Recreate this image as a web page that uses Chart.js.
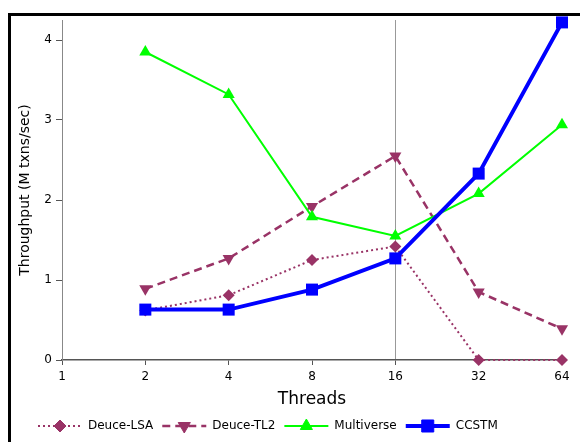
<!DOCTYPE html>
<html>
<head>
<meta charset="utf-8">
<script src="https://cdn.jsdelivr.net/npm/chart.js@4"></script>
<style>
  html, body { margin: 0; padding: 0; background: #fff; }
  #frame { position: absolute; left: 8px; top: 13px; width: 700px; height: 600px;
           border-top: 3px solid #000; border-left: 3px solid #000; }
  #wrap { position: absolute; left: 0; top: 0; width: 580px; height: 442px; }
</style>
</head>
<body>
<div id="frame"></div>
<div id="wrap"><canvas id="chart" width="580" height="442"></canvas></div>
<script>
// --- DATA ---
const threads = [2, 4, 8, 16, 32, 64];
const xTicks = [1, 2, 4, 8, 16, 32, 64];
const yTicks = [0, 1, 2, 3, 4];

const deuceLsa = [0.62, 0.81, 1.25, 1.42, 0.0, 0.0];
const deuceTl2 = [0.89, 1.27, 1.92, 2.55, 0.85, 0.39];
const multiverse = [3.85, 3.32, 1.79, 1.55, 2.08, 2.94];
const ccstm = [0.63, 0.63, 0.88, 1.27, 2.33, 4.22];

const FONT = "'DejaVu Sans', sans-serif";
const PURPLE = '#993366';

function pts(values) {
    return values.map((v, i) => ({ x: threads[i], y: v }));
}

// --- LEGEND (line sample + marker, like the original plot) ---
const lineLegend = {
    id: 'lineLegend',
    afterDraw(chart) {
        const ctx = chart.ctx;
        const y = 426;
        let x = 38;
        ctx.save();
        ctx.font = '12px ' + FONT;
        ctx.textBaseline = 'middle';
        chart.data.datasets.forEach(ds => {
            // line sample
            ctx.beginPath();
            ctx.setLineDash(ds.borderDash || []);
            ctx.strokeStyle = ds.borderColor;
            ctx.lineWidth = ds.borderWidth;
            ctx.moveTo(x, y);
            ctx.lineTo(x + 44, y);
            ctx.stroke();
            ctx.setLineDash([]);
            // marker
            ctx.fillStyle = ds.pointBackgroundColor;
            ctx.strokeStyle = ds.pointBackgroundColor;
            ctx.lineWidth = 1;
            Chart.helpers.drawPoint(ctx, {
                pointStyle: ds.pointStyle,
                rotation: ds.pointRotation || 0,
                radius: ds.pointRadius,
                borderWidth: 1
            }, x + 22, y);
            ctx.fillStyle = '#000';
            ctx.fillText(ds.label, x + 50, y);
            x += 50 + ctx.measureText(ds.label).width + 9;
        });
        ctx.restore();
    }
};

new Chart(document.getElementById('chart'), {
    type: 'line',
    data: {
        datasets: [
            {
                label: 'Deuce-LSA', data: pts(deuceLsa), order: 3,
                borderColor: PURPLE, backgroundColor: PURPLE, borderWidth: 2, borderDash: [2, 3],
                pointStyle: 'rectRot', pointRadius: 6, pointBackgroundColor: PURPLE, pointBorderColor: PURPLE,
                pointBorderWidth: 0
            },
            {
                label: 'Deuce-TL2', data: pts(deuceTl2), order: 2,
                borderColor: PURPLE, backgroundColor: PURPLE, borderWidth: 2.5, borderDash: [8, 5],
                pointStyle: 'triangle', pointRotation: 180, pointRadius: 7, pointBackgroundColor: PURPLE,
                pointBorderColor: PURPLE, pointBorderWidth: 0
            },
            {
                label: 'Multiverse', data: pts(multiverse), order: 1,
                borderColor: '#00ff00', backgroundColor: '#00ff00', borderWidth: 2,
                pointStyle: 'triangle', pointRadius: 7, pointBackgroundColor: '#00ff00',
                pointBorderColor: '#00ff00', pointBorderWidth: 0
            },
            {
                label: 'CCSTM', data: pts(ccstm), order: 0,
                borderColor: '#0000ff', backgroundColor: '#0000ff', borderWidth: 4,
                pointStyle: 'rect', pointRadius: 8.5, pointBackgroundColor: '#0000ff',
                pointBorderColor: '#0000ff', pointBorderWidth: 0
            }
        ]
    },
    options: {
        responsive: false,
        animation: false,
        events: [],
        clip: false,
        layout: { padding: { top: 20, left: 0, right: 18, bottom: 30 } },
        plugins: { legend: { display: false }, tooltip: { enabled: false } },
        elements: { line: { tension: 0 } },
        scales: {
            x: {
                type: 'logarithmic',
                min: 1,
                max: 64,
                afterBuildTicks: axis => { axis.ticks = xTicks.map(v => ({ value: v })); },
                afterFit: axis => { axis.height = 52; axis.paddingLeft = 0; axis.paddingRight = 0; },
                ticks: {
                    callback: v => String(v),
                    color: '#000', font: { family: FONT, size: 12 }, padding: 5,
                    autoSkip: false, maxRotation: 0
                },
                grid: {
                    drawOnChartArea: true,
                    color: c => (c.tick && c.tick.value === 16) ? '#999999' : 'rgba(0,0,0,0)',
                    tickColor: '#555555', tickLength: 5, lineWidth: 1
                },
                border: { display: true, color: '#555555', width: 1.5 },
                title: {
                    display: true, text: 'Threads', color: '#000',
                    font: { family: FONT, size: 17 }, padding: { top: 0, bottom: 2 }
                }
            },
            y: {
                min: 0,
                max: 4.25,
                afterBuildTicks: axis => { axis.ticks = yTicks.map(v => ({ value: v })); },
                afterFit: axis => { axis.width = 62; axis.paddingTop = 0; axis.paddingBottom = 0; },
                ticks: { color: '#000', font: { family: FONT, size: 12 }, padding: 4 },
                grid: { drawOnChartArea: false, tickColor: '#555555', tickLength: 6 },
                border: { display: true, color: '#888888', width: 1 },
                title: {
                    display: true, text: 'Throughput (M txns/sec)', color: '#000',
                    font: { family: FONT, size: 14 }, padding: { top: 17, bottom: 0 }
                }
            }
        }
    },
    plugins: [lineLegend]
});
</script>
</body>
</html>
